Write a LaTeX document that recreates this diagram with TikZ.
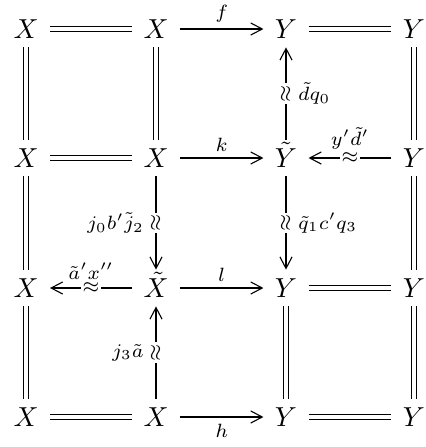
\documentclass[tikz,border=0pt]{standalone}
\usepackage{graphicx}
\usetikzlibrary{arrows.meta}
\begin{document}
\begin{tikzpicture}[x=0.364pt,y=-0.364pt,
  obj/.style={inner xsep=4pt, inner ysep=1.8pt, text height=8pt, text depth=1.4pt},
  eq/.style={double, double distance=1.1pt, line width=0.45pt},
  ar/.style={line width=0.45pt, -{Straight Barb[length=4.2pt,width=4.4pt,line width=0.4pt]}},
  lab/.style={inner sep=2.2pt},
  wlab/.style={inner sep=3pt},
  wig/.style={fill=white, inner sep=0.6pt},
  vwig/.style={fill=white, inner sep=0.6pt, rotate=90}]
\useasboundingbox (0,0) rectangle (426,447);
% row 1
\node[obj] (a11) at (26,29) {$X$};
\node[obj] (a12) at (156,29) {$X$};
\node[obj] (a13) at (286,29) {$Y$};
\node[obj] (a14) at (414,29) {$Y$};
% row 2
\node[obj] (a21) at (26,158) {$X$};
\node[obj] (a22) at (156,158) {$X$};
\node[obj] (a23) at (286,158) {$\tilde{Y}$};
\node[obj] (a24) at (414,158) {$Y$};
% row 3
\node[obj] (a31) at (26,288) {$X$};
\node[obj] (a32) at (156,288) {$\tilde{X}$};
\node[obj] (a33) at (286,288) {$Y$};
\node[obj] (a34) at (414,288) {$Y$};
% row 4
\node[obj] (a41) at (26,417) {$X$};
\node[obj] (a42) at (156,417) {$X$};
\node[obj] (a43) at (286,417) {$Y$};
\node[obj] (a44) at (414,417) {$Y$};
% horizontal
\draw[eq] (a11) -- (a12);
\draw[ar] (a12) -- node[above,lab] {$\scriptstyle f$} (a13);
\draw[eq] (a13) -- (a14);
\draw[eq] (a21) -- (a22);
\draw[ar] (a22) -- node[above,lab] {$\scriptstyle k$} (a23);
\draw[ar] (a24) -- node[wig] {$\scriptstyle\approx$} node[above,wlab] {$\scriptstyle y'\tilde{d}'$} (a23);
\draw[ar] (a32) -- node[wig] {$\scriptstyle\approx$} node[above,wlab] {$\scriptstyle \tilde{a}'x''$} (a31);
\draw[ar] (a32) -- node[above,lab] {$\scriptstyle l$} (a33);
\draw[eq] (a33) -- (a34);
\draw[eq] (a41) -- (a42);
\draw[ar] (a42) -- node[below,lab] {$\scriptstyle h$} (a43);
\draw[eq] (a43) -- (a44);
% vertical
\draw[eq] (a11) -- (a21);
\draw[eq] (a21) -- (a31);
\draw[eq] (a31) -- (a41);
\draw[eq] (a12) -- (a22);
\draw[ar] (a23) -- node[vwig] {$\scriptstyle\approx$} node[right,lab,xshift=2pt] {$\scriptstyle \tilde{d}q_0$} (a13);
\draw[ar] (a22) -- node[vwig] {$\scriptstyle\approx$} node[left,lab,xshift=-2pt] {$\scriptstyle j_0b'\tilde{j}_2$} (a32);
\draw[ar] (a23) -- node[vwig] {$\scriptstyle\approx$} node[right,lab,xshift=2pt] {$\scriptstyle \tilde{q}_1c'q_3$} (a33);
\draw[ar] (a42) -- node[vwig] {$\scriptstyle\approx$} node[left,lab,xshift=-2pt] {$\scriptstyle j_3\tilde{a}$} (a32);
\draw[eq] (a33) -- (a43);
\draw[eq] (a14) -- (a24);
\draw[eq] (a24) -- (a34);
\draw[eq] (a34) -- (a44);
\end{tikzpicture}
\end{document}
